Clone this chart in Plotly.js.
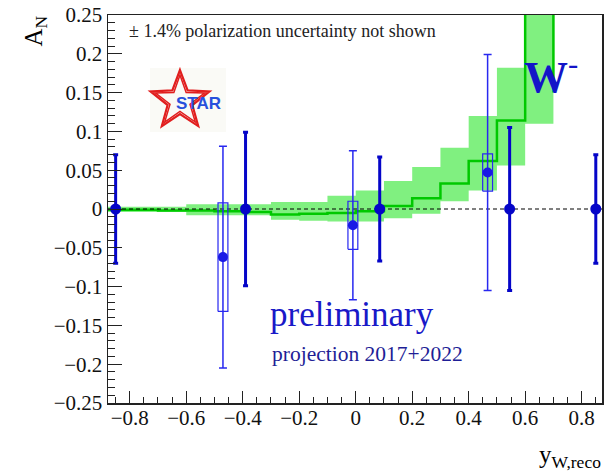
<!DOCTYPE html>
<html><head><meta charset="utf-8">
<script src="https://cdn.plot.ly/plotly-3.0.1.min.js"></script>
<style>html,body{margin:0;padding:0;background:#fff}#chart{width:604px;height:474px}</style>
</head><body><div id="chart"></div>
<script>
// ---- data ----
const binEdges = [-0.9,-0.8,-0.7,-0.6,-0.5,-0.4,-0.3,-0.2,-0.1,0,0.1,0.2,0.3,0.4,0.5,0.6,0.7];
const theoryCentral = [-0.001,-0.001,-0.002,-0.002,-0.003,-0.004,-0.007,-0.006,-0.005,-0.003,0.004,0.014,0.033,0.062,0.114,0.30];
const theoryLow  = [-0.004,-0.004,-0.004,-0.008,-0.008,-0.008,-0.014,-0.015,-0.016,-0.016,-0.012,-0.006,0.010,0.024,0.056,0.110];
const theoryHigh = [0.003,0.003,0.003,0.006,0.006,0.006,0.009,0.009,0.017,0.024,0.036,0.054,0.079,0.120,0.182,0.50];
const theoryTailEnd = 0.15;

const darkX = [-0.85,-0.39,0.085,0.545,0.85];
const darkY = [0,0,0,0,0];
const darkErr = [0.07,0.099,0.067,0.105,0.07];

const projX = [-0.47,-0.01,0.467];
const projY = [-0.062,-0.021,0.047];
const projStat = [0.143,0.096,0.152];
const projSys = [0.07,0.031,0.024];

const xRange = [-0.877, 0.872];
const yRange = [-0.25, 0.25];

// ---- layout geometry ----
const W = 604, H = 474, ML = 108, MR = 2, MT = 15, MB = 71;
const PW = W - ML - MR, PH = H - MT - MB;
const px = v => (v - ML) / PW;
const py = v => (H - MB - v) / PH;

function step(edges, vals) {
  const xs = [], ys = [];
  for (let i = 0; i < vals.length; i++) { xs.push(edges[i], edges[i+1]); ys.push(vals[i], vals[i]); }
  return {xs, ys};
}
const up = step(binEdges, theoryHigh), lo = step(binEdges, theoryLow), mid = step(binEdges, theoryCentral);

const traces = [];
traces.push({x: up.xs.concat(lo.xs.slice().reverse()), y: up.ys.concat(lo.ys.slice().reverse()),
  mode: 'lines', fill: 'toself', fillcolor: 'rgb(128,240,128)', line: {width: 0}, hoverinfo: 'skip', showlegend: false});
traces.push({x: mid.xs.concat([binEdges[binEdges.length-1]]), y: mid.ys.concat([theoryTailEnd]),
  mode: 'lines', line: {color: 'rgb(0,200,0)', width: 2.5}, showlegend: false});
traces.push({x: xRange, y: [0,0], mode: 'lines', line: {color: '#000', width: 1, dash: '4px,3px'}, showlegend: false});

// systematic boxes
const boxHalf = 0.0175;
projX.forEach((x, i) => {
  traces.push({x: [x-boxHalf, x+boxHalf, x+boxHalf, x-boxHalf, x-boxHalf],
    y: [projY[i]-projSys[i], projY[i]-projSys[i], projY[i]+projSys[i], projY[i]+projSys[i], projY[i]-projSys[i]],
    mode: 'lines', line: {color: 'rgb(40,40,240)', width: 1.2}, showlegend: false});
});
traces.push({x: projX, y: projY, mode: 'markers', marker: {color: 'rgb(25,25,230)', size: 10},
  error_y: {type: 'data', array: projStat, visible: true, color: 'rgb(40,40,240)', thickness: 1.5, width: 4}, showlegend: false});
traces.push({x: darkX, y: darkY, mode: 'markers', marker: {color: 'rgb(5,5,200)', size: 11},
  error_y: {type: 'data', array: darkErr, visible: true, color: 'rgb(5,5,200)', thickness: 3, width: 2.5}, showlegend: false});

// STAR logo star
function starPath(cx, cy, R, r) {
  let d = '';
  for (let k = 0; k < 10; k++) {
    const ang = -Math.PI/2 + k*Math.PI/5;
    const rad = k % 2 === 0 ? R : r;
    const X = px(cx + rad*Math.cos(ang)), Y = py(cy + rad*Math.sin(ang));
    d += (k === 0 ? 'M' : 'L') + X.toFixed(4) + ',' + Y.toFixed(4);
  }
  return d + 'Z';
}
const shapes = [
  {type: 'rect', xref: 'paper', yref: 'paper', x0: px(150), x1: px(226), y0: py(132), y1: py(68), fillcolor: '#fafaf6', line: {width: 0}, layer: 'below'},
  {type: 'path', xref: 'paper', yref: 'paper', path: starPath(180, 101, 31, 13), line: {color: 'rgb(225,30,30)', width: 2.2}},
  {type: 'path', xref: 'paper', yref: 'paper', path: starPath(180, 101, 26, 10.5), line: {color: 'rgb(225,30,30)', width: 1.5}}
];

const serif = 'Liberation Serif, Times New Roman, serif';
const annotations = [
  {text: '± 1.4% polarization uncertainty not shown', xref: 'paper', yref: 'paper', x: px(127), y: py(31), xanchor: 'left', yanchor: 'middle', showarrow: false, font: {family: serif, size: 18, color: '#222'}},
  {text: '<b>STAR</b>', xref: 'paper', yref: 'paper', x: px(198), y: py(104), xanchor: 'center', yanchor: 'middle', showarrow: false, font: {family: 'Liberation Sans, Arial, sans-serif', size: 17, color: 'rgb(40,80,220)'}},
  {text: '<b>W</b><sup>-</sup>', xref: 'paper', yref: 'paper', x: px(522), y: py(74), xanchor: 'left', yanchor: 'middle', showarrow: false, font: {family: serif, size: 44, color: 'rgb(20,20,200)'}},
  {text: 'preliminary', xref: 'paper', yref: 'paper', x: px(268), y: py(314), xanchor: 'left', yanchor: 'middle', showarrow: false, font: {family: serif, size: 35, color: 'rgb(25,25,200)'}},
  {text: 'projection 2017+2022', xref: 'paper', yref: 'paper', x: px(270), y: py(354), xanchor: 'left', yanchor: 'middle', showarrow: false, font: {family: serif, size: 21.5, color: 'rgb(30,30,150)'}},
  {text: 'A<sub>N</sub>', xref: 'paper', yref: 'paper', x: px(35), y: py(14), xanchor: 'center', yanchor: 'top', textangle: -90, showarrow: false, font: {family: serif, size: 25, color: '#000'}},
  {text: 'y<sub>W,reco</sub>', xref: 'paper', yref: 'paper', x: px(603), y: py(474), xanchor: 'right', yanchor: 'bottom', showarrow: false, font: {family: serif, size: 25, color: '#000'}}
];

const axisCommon = {showgrid: false, zeroline: false, showline: true, mirror: true, linecolor: '#222', linewidth: 1.5,
  ticks: 'inside', tickcolor: '#222', tickwidth: 1, tickfont: {family: serif, size: 21, color: '#111'}};

const layout = {
  width: W, height: H, margin: {l: ML, r: MR, t: MT, b: MB, pad: 0},
  paper_bgcolor: '#fff', plot_bgcolor: '#fff', showlegend: false,
  xaxis: Object.assign({}, axisCommon, {range: xRange, tick0: 0, dtick: 0.2, ticklen: 12, ticklabelstandoff: -5,
    minor: {dtick: 0.05, tick0: 0, ticklen: 6, ticks: 'inside', tickcolor: '#222', showgrid: false}}),
  yaxis: Object.assign({}, axisCommon, {range: yRange, tick0: 0, dtick: 0.05, ticklen: 14,
    minor: {dtick: 0.01, tick0: 0, ticklen: 7, ticks: 'inside', tickcolor: '#222', showgrid: false}}),
  shapes: shapes, annotations: annotations
};
Plotly.newPlot('chart', traces, layout, {displayModeBar: false, staticPlot: true});
</script></body></html>
